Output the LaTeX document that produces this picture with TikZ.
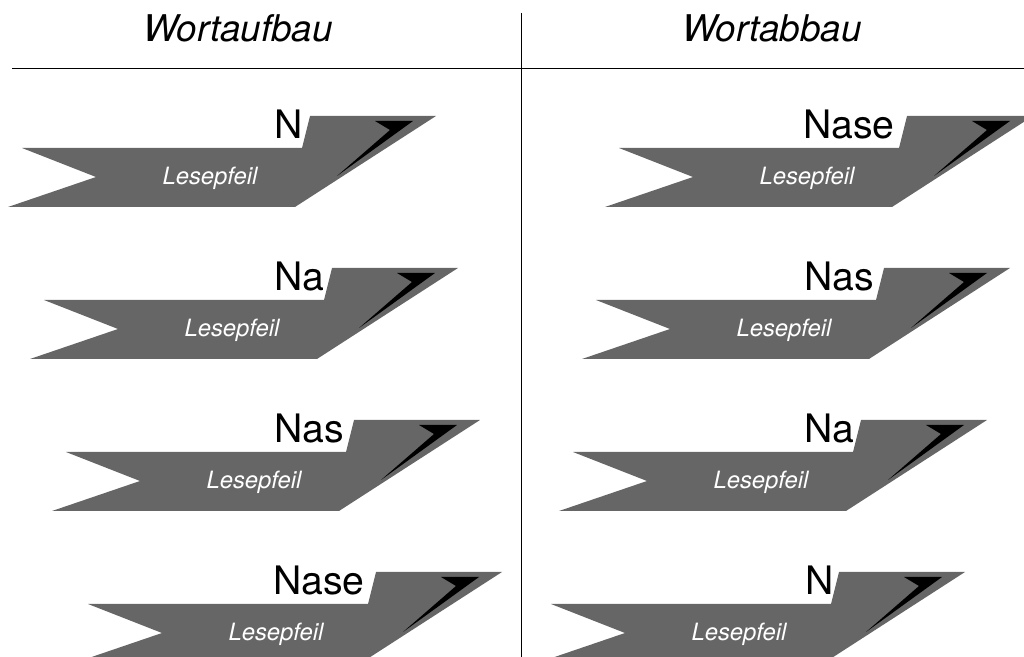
\documentclass[tikz,border=0pt]{standalone}
\usepackage{fontspec}
\setmainfont{TeX Gyre Heros}
\usepackage{tikz}
\usetikzlibrary{positioning}
\definecolor{pfeilgrau}{RGB}{102, 102, 102}

\begin{document}
\begin{tikzpicture}[
    x=0.5pt, y=-0.5pt,
    kopf/.style={inner sep=0, anchor=base, font=\fontsize{18.4}{22}\selectfont\itshape},
    wort/.style={inner sep=0, anchor=base west, font=\fontsize{19.6}{23}\selectfont},
    lese/.style={inner sep=0, anchor=base, text=white, font=\fontsize{11.9}{14}\selectfont\itshape},
    pics/lesepfeil/.style={code={
        \fill[pfeilgrau] (0,0) -- (88,-30) -- (14,-59) -- (294,-59) -- (302,-91) -- (428,-91) -- (287,0) -- cycle;
        \fill[black] (367,-86) -- (405,-86) -- (329,-31) -- (382,-77) -- cycle;
        \node[lese] (-text) at (202,-22) {Lesepfeil};
    }}
]
\useasboundingbox (0,0) rectangle (1024,657);

\node[kopf] (aufbau) at (238,42) {Wortaufbau};
\node[kopf] (abbau) at (772,42) {Wortabbau};
\draw[line width=0.5pt] (12,69) -- (1024,69);
\draw[line width=0.5pt] (521,13) -- (521,657);

% Wortaufbau
\node[wort] (a1) at (274,139) {N};
\node[wort] (a2) at (274,291) {Na};
\node[wort] (a3) at (274,443) {Nas};
\node[wort] (a4) at (273,595) {Nase};
\pic (p1) at (8,207) {lesepfeil};
\pic (p2) at (30,359) {lesepfeil};
\pic (p3) at (52,511) {lesepfeil};
\pic (p4) at (74,663) {lesepfeil};

% Wortabbau
\node[wort] (b1) at (803,139) {Nase};
\node[wort] (b2) at (804,291) {Nas};
\node[wort] (b3) at (804,443) {Na};
\node[wort] (b4) at (805,595) {N};
\pic (q1) at (605,207) {lesepfeil};
\pic (q2) at (582,359) {lesepfeil};
\pic (q3) at (559,511) {lesepfeil};
\pic (q4) at (537,663) {lesepfeil};
\end{tikzpicture}
\end{document}
